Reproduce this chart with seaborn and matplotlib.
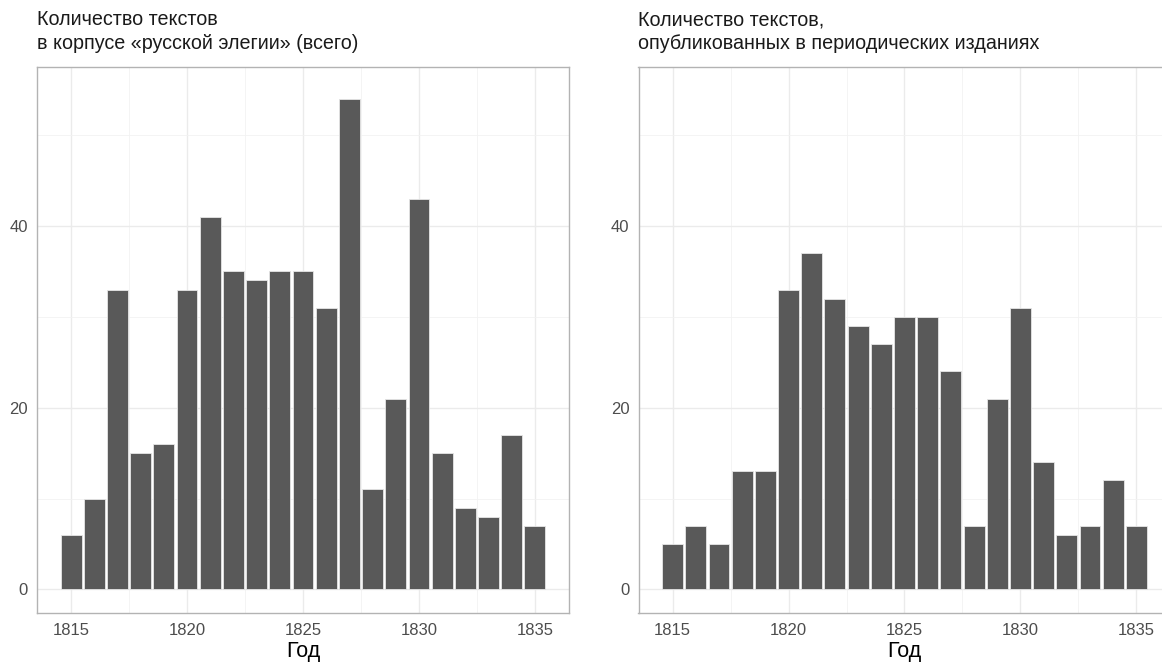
import numpy as np
import pandas as pd
import matplotlib
matplotlib.use("Agg")
import matplotlib.pyplot as plt
from matplotlib.ticker import MultipleLocator
import seaborn as sns

years = list(range(1815, 1836))
total_counts = [6, 10, 33, 15, 16, 33, 41, 35, 34, 35, 35, 31, 54, 11, 21, 43, 15, 9, 8, 17, 7]
periodical_counts = [5, 7, 5, 13, 13, 33, 37, 32, 29, 27, 30, 30, 24, 7, 21, 31, 14, 6, 7, 12, 7]

title_left = "Количество текстов\nв корпусе «русской элегии» (всего)"
title_right = "Количество текстов,\nопубликованных в периодических изданиях"
x_label = "Год"

sns.set_style("white")
plt.rcParams["font.family"] = ["Liberation Sans", "DejaVu Sans"]

fig = plt.figure(figsize=(11.62, 6.62), dpi=100)
W, H = 1162, 662
ax_l = fig.add_axes([37 / W, (H - 613) / H, 532 / W, (613 - 67) / H])
ax_r = fig.add_axes([638.5 / W, (H - 613) / H, 532 / W, (613 - 67) / H])

for ax, vals, title in [(ax_l, total_counts, title_left), (ax_r, periodical_counts, title_right)]:
    df = pd.DataFrame({"year": years, "n": vals})
    sns.barplot(data=df, x="year", y="n", native_scale=True, width=0.9,
                color="#595959", saturation=1, edgecolor="#e6e6e6", linewidth=0.6,
                ax=ax, zorder=3)
    ax.set_xlim(1813.53, 1836.47)
    ax.set_ylim(-2.6, 57.5)
    ax.xaxis.set_major_locator(MultipleLocator(5))
    ax.xaxis.set_minor_locator(MultipleLocator(2.5))
    ax.yaxis.set_major_locator(MultipleLocator(20))
    ax.yaxis.set_minor_locator(MultipleLocator(10))
    ax.grid(which="major", color="#ebebeb", linewidth=1.0, zorder=0)
    ax.grid(which="minor", color="#f2f2f2", linewidth=0.6, zorder=0)
    ax.set_axisbelow(True)
    for s in ax.spines.values():
        s.set_color("#b3b3b3")
        s.set_linewidth(1.0)
    ax.tick_params(axis="both", which="major", length=3.5, width=0.8, color="#b3b3b3",
                   labelcolor="#4d4d4d", labelsize=12, pad=4)
    ax.tick_params(axis="y", which="major", pad=3)
    ax.tick_params(axis="both", which="minor", length=0)
    ax.set_xlabel(x_label, fontsize=15.5, color="black", labelpad=2)
    ax.set_ylabel("")
    ax.set_title(title, loc="left", fontsize=14.2, color="#1a1a1a", pad=13, linespacing=1.3)

fig.savefig("out.png", dpi=100)
